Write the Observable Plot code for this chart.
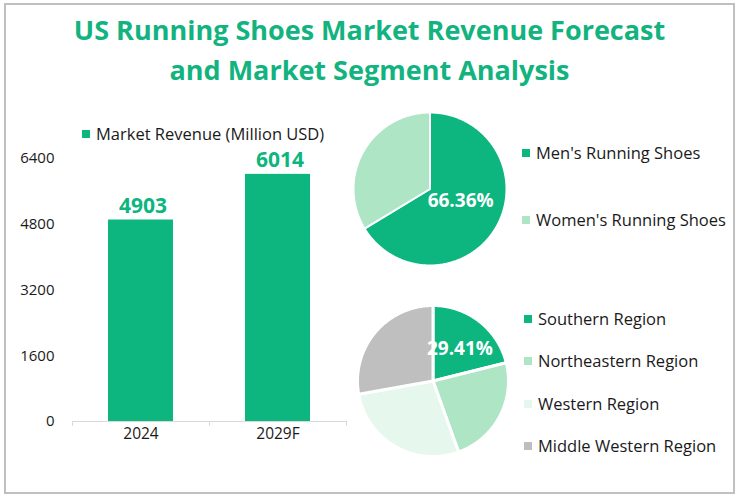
<!DOCTYPE html>
<html>
<head>
<meta charset="utf-8">
<script src="https://cdn.jsdelivr.net/npm/d3@7"></script>
<script src="https://cdn.jsdelivr.net/npm/@observablehq/plot@0.6"></script>
<style>
  html, body { margin: 0; padding: 0; background: #fff; }
  #wrap { position: relative; width: 739px; height: 496px; font-family: "Open Sans", sans-serif; overflow: hidden; }
  #border { position: absolute; left: 4px; top: 3px; width: 727px; height: 487px; border: 2px solid #c0c0c0; box-sizing: content-box; }
  .title { position: absolute; left: 0; width: 739px; text-align: center; color: #12b37f; font-weight: 700; font-size: 27px; line-height: 1; white-space: nowrap; }
  .abs { position: absolute; }
  .leg { position: absolute; font-size: 16.5px; color: #1a1a1a; white-space: nowrap; display: flex; align-items: center; line-height: 18px; }
  .leg i { display: inline-block; width: 8px; height: 8px; margin-right: 6px; }
</style>
</head>
<body>
<div id="wrap">
  <div id="border"></div>
  <div class="title" style="top:16px">US Running Shoes Market Revenue Forecast</div>
  <div class="title" style="top:56px">and Market Segment Analysis</div>
  <div id="bar" class="abs" style="left:0;top:100px"></div>
  <div id="pie1" class="abs"></div>
  <div id="pie2" class="abs"></div>
</div>
<script>
// ---- data ----
const years = ["2024", "2029F"];
const revenue = [4903, 6014];
const yTicks = [0, 1600, 3200, 4800, 6400];
const seriesName = "Market Revenue (Million USD)";

const genderSegments = ["Men's Running Shoes", "Women's Running Shoes"];
const genderShare = [66.36, 33.64];
const genderLabel = ["66.36%", ""];

const regionSegments = ["Southern Region", "Northeastern Region", "Western Region", "Middle Western Region"];
const regionShare = [21.1, 23.4, 27.7, 27.8];
const regionLabel = ["29.41%", "", "", ""];

const green = "#0db57f";
const genderColors = [green, "#aee5c4"];
const regionColors = [green, "#aee5c4", "#e6f7ed", "#bfbfbf"];

const wrap = document.getElementById("wrap");

// ---- bar chart ----
const barData = years.map((y, i) => ({year: y, value: revenue[i]}));
const W = 360, H = 360;
const step = 137;
const bar = Plot.plot({
  width: W, height: H,
  marginLeft: 72, marginRight: 14, marginTop: 58, marginBottom: 39,
  style: {fontFamily: "Open Sans, sans-serif", fontSize: "15px", color: "#1a1a1a", background: "transparent", overflow: "visible"},
  x: {domain: years, paddingInner: 0.525, paddingOuter: 0.2625, label: null},
  y: {domain: [0, 6400], label: null},
  marks: [
    Plot.ruleY([0], {stroke: "#d9d9d9", strokeWidth: 1}),
    Plot.ruleX(years, {x: d => d, dx: -step / 2, y1: 0, y2: -120, stroke: "#d9d9d9"}),
    Plot.ruleX(years.slice(-1), {x: d => d, dx: step / 2, y1: 0, y2: -120, stroke: "#d9d9d9"}),
    Plot.barY(barData, {x: "year", y: "value", fill: green}),
    Plot.text(barData, {x: "year", y: "value", text: d => String(d.value), dy: -14, dx: 2, fill: green, fontWeight: 700, fontSize: 21}),
    Plot.axisY({ticks: yTicks, tickSize: 0, tickPadding: 18, tickFormat: d => String(d), fontSize: 15}),
    Plot.axisX({tickSize: 0, tickPadding: 6, fontSize: 15.5})
  ]
});
document.getElementById("bar").appendChild(bar);

// bar legend
const bl = document.createElement("div");
bl.className = "leg";
bl.style.left = "82px"; bl.style.top = "125px";
bl.innerHTML = `<i style="background:${green}"></i>${seriesName}`;
wrap.appendChild(bl);

// ---- pies ----
function pieChart(el, cx, cy, r, names, values, colors, labels, labR, labDy, gap) {
  const size = 2 * r + 8;
  const m = 4;
  el.style.left = (cx - size / 2) + "px";
  el.style.top = (cy - size / 2) + "px";
  const arcs = d3.pie().sort(null).value(d => d)(values);
  const pts = [];
  arcs.forEach((a, i) => {
    pts.push({k: names[i], c: colors[i], x: 0, y: 0});
    const n = Math.max(2, Math.ceil((a.endAngle - a.startAngle) / 0.01));
    for (let j = 0; j <= n; j++) {
      const t = a.startAngle + (a.endAngle - a.startAngle) * j / n;
      pts.push({k: names[i], c: colors[i], x: Math.sin(t), y: Math.cos(t)});
    }
    pts.push({k: names[i], c: colors[i], x: 0, y: 0});
  });
  const labs = arcs.map((a, i) => {
    const t = (a.startAngle + a.endAngle) / 2;
    return {x: Math.sin(t) * labR, y: Math.cos(t) * labR, t: labels[i]};
  }).filter(d => d.t);
  const p = Plot.plot({
    width: size, height: size, margin: m,
    style: {background: "transparent", overflow: "visible", fontFamily: "Open Sans, sans-serif"},
    x: {domain: [-1, 1], axis: null},
    y: {domain: [-1, 1], axis: null},
    color: {type: "identity"},
    marks: [
      Plot.line(pts, {x: "x", y: "y", z: "k", fill: "c", stroke: "white", strokeWidth: gap, strokeLinejoin: "round", curve: "linear"}),
      Plot.text(labs, {x: "x", y: "y", text: "t", fill: "white", fontWeight: 700, fontSize: 19, dy: labDy})
    ]
  });
  el.appendChild(p);
}

pieChart(document.getElementById("pie1"), 429.5, 188, 76.5, genderSegments, genderShare, genderColors, genderLabel, 0.46, -5, 2);
pieChart(document.getElementById("pie2"), 432, 380.5, 75.5, regionSegments, regionShare, regionColors, regionLabel, 0.58, 2, 3);

function legend(names, colors, x, ys) {
  names.forEach((n, i) => {
    const d = document.createElement("div");
    d.className = "leg";
    d.style.left = x + "px";
    d.style.top = (ys[i] - 9) + "px";
    d.innerHTML = `<i style="background:${colors[i]}"></i>${n}`;
    wrap.appendChild(d);
  });
}
legend(genderSegments, genderColors, 522, [153, 220]);
legend(regionSegments, regionColors, 524, [319, 361, 404, 446]);
</script>
</body>
</html>
